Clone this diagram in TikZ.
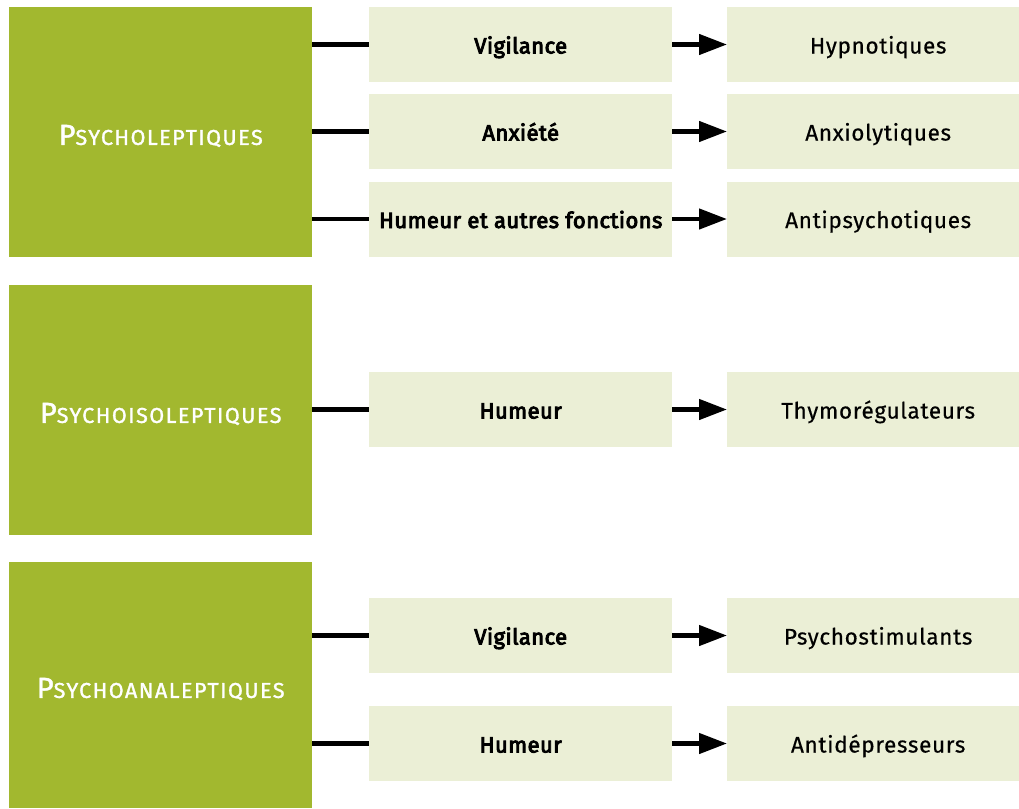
\documentclass[tikz,border=0pt]{standalone}
\usepackage{fontspec}
\setmainfont{Fira Sans}
\newfontfamily\titlefont[LetterSpace=7,FakeBold=1.5]{Fira Sans}
\newfontfamily\midfont[LetterSpace=2,FakeBold=4]{Fira Sans}
\newfontfamily\rightfont[LetterSpace=3,FakeBold=0.4]{Fira Sans}
\usetikzlibrary{arrows.meta}
\definecolor{grn}{HTML}{A2B82F}
\definecolor{pale}{HTML}{EBEFD6}
\newcommand{\fsc}[2]{{\titlefont\fontsize{29}{32}\selectfont #1}{\titlefont\fontsize{21.5}{25}\selectfont #2}}
\tikzset{
  x=1pt,y=-1pt,
  bigbox/.style={fill=grn,draw=none,text=white,inner sep=0pt,minimum width=303pt,anchor=north west},
  bigtitle/.style={text=white,inner sep=0pt,anchor=base},
  midbox/.style={fill=pale,draw=none,inner sep=0pt,minimum width=303pt,minimum height=75pt,anchor=west,text height=20pt,text depth=2pt,font=\midfont\fontsize{22}{26}\selectfont},
  rightbox/.style={fill=pale,draw=none,inner sep=0pt,minimum width=292pt,minimum height=75pt,anchor=west,text height=20pt,text depth=2pt,font=\rightfont\fontsize{22.5}{27}\selectfont},
  link/.style={line width=4.5pt,draw=black},
  arr/.style={line width=4.5pt,draw=black,-{Triangle[length=28pt,width=20pt]}}
}
\begin{document}
\begin{tikzpicture}
\useasboundingbox (0,0) rectangle (1019,808);
% big boxes
\node[bigbox,minimum height=250pt] (A) at (9,7) {};
\node[bigtitle] (tA) at ([yshift=-12.7pt]A.center) {\fsc{P}{SYCHOLEPTIQUES}};
\node[bigbox,minimum height=250pt] (B) at (9,285) {};
\node[bigtitle] (tB) at ([yshift=-12.7pt]B.center) {\fsc{P}{SYCHOISOLEPTIQUES}};
\node[bigbox,minimum height=246pt] (C) at (9,562) {};
\node[bigtitle] (tC) at ([yshift=-12.7pt]C.center) {\fsc{P}{SYCHOANALEPTIQUES}};
% middle boxes
\node[midbox] (m1) at (369,44.5) {Vigilance};
\node[midbox] (m2) at (369,131.5) {Anxiété};
\node[midbox] (m3) at (369,219) {Humeur et autres fonctions};
\node[midbox] (m4) at (369,409.5) {Humeur};
\node[midbox] (m5) at (369,635.5) {Vigilance};
\node[midbox] (m6) at (369,743.5) {Humeur};
% right boxes
\node[rightbox] (r1) at (727,44.5) {\hspace*{10pt}Hypnotiques};
\node[rightbox] (r2) at (727,131.5) {\hspace*{10pt}Anxiolytiques};
\node[rightbox] (r3) at (727,219) {\hspace*{10pt}Antipsychotiques};
\node[rightbox] (r4) at (727,409.5) {\hspace*{10pt}Thymorégulateurs};
\node[rightbox] (r5) at (727,635.5) {\hspace*{10pt}Psychostimulants};
\node[rightbox] (r6) at (727,743.5) {\hspace*{10pt}Antidépresseurs};
% links
\foreach \m in {m1,m2,m3}{\draw[link] (A.east |- \m.west) -- (\m.west);}
\draw[link] (B.east |- m4.west) -- (m4.west);
\foreach \m in {m5,m6}{\draw[link] (C.east |- \m.west) -- (\m.west);}
\foreach \i in {1,...,6}{\draw[arr] (m\i.east) -- (r\i.west);}
\end{tikzpicture}
\end{document}
